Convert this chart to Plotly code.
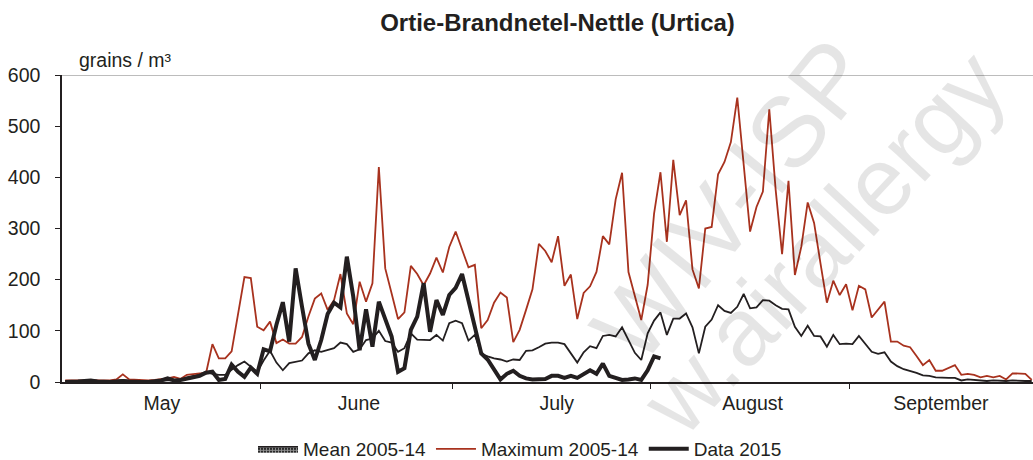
import plotly.graph_objects as go

# Daily nettle pollen counts, day index 0 = 1 May
max_2005_14 = [
    3, 3, 3, 3, 3, 3, 4, 3, 5, 15, 5, 4, 3, 3, 4, 5, 7, 10, 6, 14,
    16, 17, 17, 74, 46, 46, 60, 130, 205, 203, 108, 101, 118, 76, 83, 75, 75, 88, 128, 163,
    173, 141, 160, 211, 134, 113, 196, 157, 193, 420, 222, 173, 123, 136, 227, 211, 189, 212, 243, 214,
    264, 294, 261, 224, 229, 105, 121, 155, 175, 165, 78, 102, 141, 181, 270, 256, 234, 285, 188, 210,
    123, 174, 187, 215, 285, 269, 357, 409, 215, 167, 121, 190, 329, 410, 274, 434, 326, 355, 220, 183,
    300, 303, 406, 430, 469, 556, 430, 294, 342, 372, 533, 375, 250, 393, 209, 264, 351, 311, 232, 155,
    198, 170, 191, 140, 188, 181, 126, 142, 157, 79, 79, 71, 68, 51, 33, 43, 22, 22, 27, 33,
    14, 16, 14, 9, 12, 9, 12, 5, 17, 17, 16, 4,
]

mean_2005_14 = [
    1, 1, 1, 2, 4, 2, 1, 1, 2, 4, 2, 1, 1, 1, 2, 2, 3, 3, 5, 9,
    12, 15, 20, 16, 14, 14, 24, 33, 40, 30, 20, 42, 61, 38, 23, 37, 40, 42, 56, 62,
    59, 62, 66, 77, 74, 59, 64, 82, 85, 100, 80, 77, 59, 66, 95, 83, 83, 82, 92, 81,
    115, 120, 115, 81, 92, 55, 50, 46, 44, 40, 44, 43, 61, 62, 68, 75, 77, 77, 74, 56,
    38, 58, 70, 66, 90, 92, 89, 107, 82, 57, 43, 95, 120, 136, 92, 124, 124, 134, 107, 56,
    108, 122, 150, 139, 135, 147, 172, 144, 146, 160, 159, 150, 143, 142, 108, 90, 110, 90, 89, 69,
    92, 74, 75, 74, 90, 75, 59, 55, 58, 40, 31, 25, 22, 18, 13, 12, 9, 8, 8, 8,
    3, 5, 4, 3, 2, 3, 2, 2, 3, 2, 2, 2,
]

data_2015 = [
    0, 0, 1, 2, 3, 1, 0, 0, 1, 2, 1, 0, 0, 0, 1, 3, 7, 3, 4, 6,
    9, 12, 18, 20, 4, 6, 34, 20, 10, 28, 16, 64, 60, 112, 156, 79, 222, 147, 75, 43,
    82, 133, 155, 146, 245, 167, 62, 142, 69, 157, 124, 89, 20, 27, 102, 128, 193, 98, 160, 131,
    170, 184, 211, 157, 108, 56, 44, 25, 5, 16, 22, 12, 7, 5, 5, 6, 12, 12, 8, 12,
    8, 16, 23, 16, 36, 12, 8, 4, 5, 7, 4, 23, 50, 46,
]

months = ["May", "June", "July", "August", "September"]
month_starts = [0, 31, 61, 92, 123]
month_label_pos = [15.6, 46.4, 77.3, 107.9, 137.3]

title_text = "Ortie-Brandnetel-Nettle (Urtica)"
unit_text = "grains / m³"
watermarks = ["WIV-ISP", "w.airallergy"]

FONT = "Liberation Sans, Arial, sans-serif"
INK = "#231f20"
RED = "#a8321e"


def day_x(values):
    return [i + 0.5 for i in range(len(values))]


fig = go.Figure()

# mean curve (thin line); its legend entry uses a patterned swatch
fig.add_trace(go.Scatter(
    x=day_x(mean_2005_14), y=mean_2005_14, mode="lines",
    line=dict(color=INK, width=1.8), showlegend=False, hoverinfo="skip",
))
fig.add_trace(go.Scatter(
    x=[None], y=[None], mode="lines", fill="toself", name="Mean 2005-14",
    line=dict(color=INK, width=1.5),
    fillcolor="#2a2a2a",
    fillpattern=dict(shape="+", fgcolor="#ffffff", bgcolor="#2a2a2a", size=3, solidity=0.5),
))
fig.add_trace(go.Scatter(
    x=day_x(max_2005_14), y=max_2005_14, mode="lines", name="Maximum 2005-14",
    line=dict(color=RED, width=1.8),
))
fig.add_trace(go.Scatter(
    x=day_x(data_2015), y=data_2015, mode="lines", name="Data 2015",
    line=dict(color=INK, width=4),
))

# faint site watermarks
for txt, cx, cy, ang, sz in [
    (watermarks[0], 732, 200, -51, 100),
    (watermarks[1], 822, 242, -47, 96),
]:
    fig.add_annotation(
        text=txt, xref="paper", yref="paper",
        x=(cx - 62) / 971, y=(382 - cy) / 307,
        showarrow=False, textangle=ang,
        font=dict(family=FONT, size=sz, color="rgba(0,0,0,0.10)"),
        xanchor="center", yanchor="middle",
    )

fig.add_annotation(
    text=unit_text, xref="paper", yref="paper", x=(77 - 62) / 971, y=1.0,
    xanchor="left", yanchor="bottom", yshift=2, showarrow=False,
    font=dict(family=FONT, size=19.5, color=INK),
)

# top frame line at 600
fig.add_shape(type="line", xref="paper", yref="y", x0=0, x1=1, y0=600, y1=600,
              line=dict(color="#a6a6a6", width=1.5))

fig.update_layout(
    width=1033, height=460,
    margin=dict(l=62, r=0, t=75, b=78),
    paper_bgcolor="white", plot_bgcolor="white",
    font=dict(family=FONT, size=19, color=INK),
    title=dict(text="<b>" + title_text + "</b>", x=557.5 / 1033, xref="container",
               y=1 - 23 / 460, yref="container", xanchor="center", yanchor="middle",
               font=dict(family=FONT, size=24, color=INK)),
    showlegend=True,
    legend=dict(orientation="h", xref="container", yref="container",
                x=253 / 1033, y=1 - 449 / 460, xanchor="left", yanchor="middle",
                itemwidth=40, font=dict(family=FONT, size=19, color=INK),
                bgcolor="rgba(0,0,0,0)"),
    xaxis=dict(
        range=[0, 151.7], showgrid=False, zeroline=False,
        showline=True, linecolor=INK, linewidth=2,
        tickmode="array", tickvals=month_label_pos, ticktext=months,
        ticks="", ticklabelstandoff=3,
        tickfont=dict(family=FONT, size=19.5, color=INK),
        minor=dict(tickmode="array", tickvals=month_starts[1:], ticks="outside",
                   ticklen=5, tickwidth=1.2, tickcolor=INK, showgrid=False),
        fixedrange=True,
    ),
    yaxis=dict(
        range=[0, 600], showgrid=False, zeroline=False,
        showline=True, linecolor=INK, linewidth=1.5,
        tickmode="array", tickvals=[0, 100, 200, 300, 400, 500, 600],
        ticks="outside", ticklen=5, tickwidth=1.2, tickcolor=INK,
        ticklabelstandoff=11,
        tickfont=dict(family=FONT, size=19.5, color=INK),
        fixedrange=True,
    ),
)

fig.write_html("out.html")
